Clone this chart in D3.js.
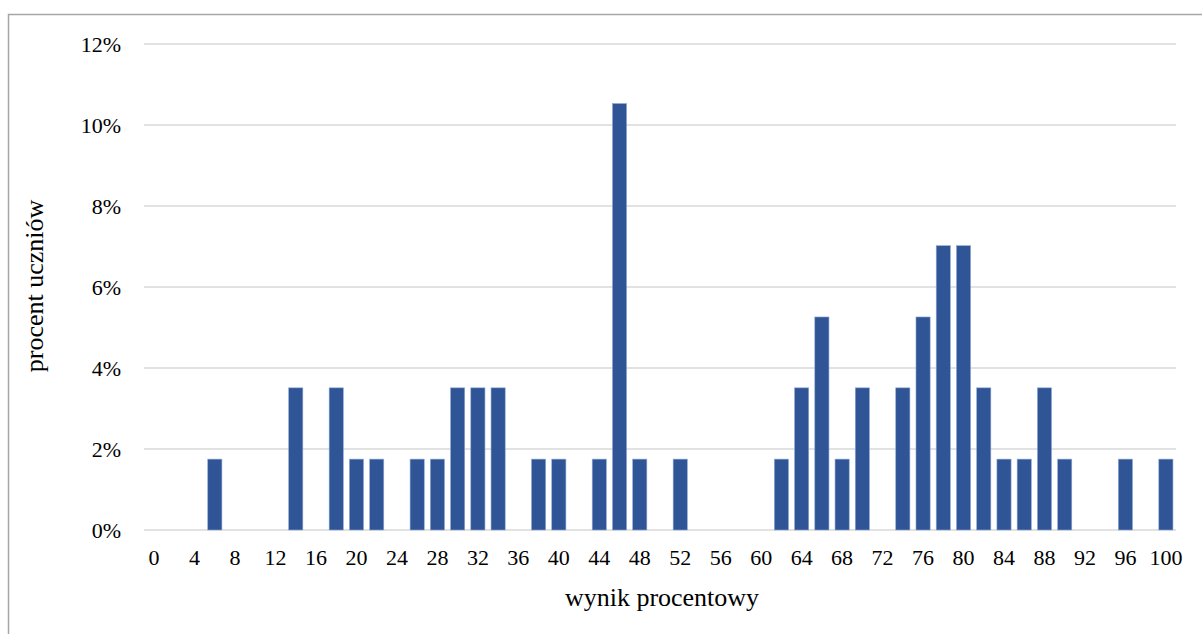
<!DOCTYPE html>
<html>
<head>
<meta charset="utf-8">
<script src="https://cdn.jsdelivr.net/npm/d3@7"></script>
<style>
  html, body { margin: 0; padding: 0; background: #fff; }
  svg { display: block; }
  text { font-family: "Liberation Serif", "Times New Roman", serif; fill: #000; }
</style>
</head>
<body>
<svg id="chart" width="1202" height="634"></svg>
<script>
// Categories: score in percent (0..100 step 2)
const categories = [0,2,4,6,8,10,12,14,16,18,20,22,24,26,28,30,32,34,36,38,40,42,44,46,48,50,
                    52,54,56,58,60,62,64,66,68,70,72,74,76,78,80,82,84,86,88,90,92,94,96,98,100];
// Percent of students for each category
const values = [0,0,0,1.75,0,0,0,3.51,0,3.51,1.75,1.75,0,1.75,1.75,3.51,3.51,3.51,0,1.75,1.75,0,1.75,10.53,1.75,0,
                1.75,0,0,0,0,1.75,3.51,5.26,1.75,3.51,0,3.51,5.26,7.02,7.02,3.51,1.75,1.75,3.51,1.75,0,0,1.75,0,1.75];
const xTickLabels = [0,4,8,12,16,20,24,28,32,36,40,44,48,52,56,60,64,68,72,76,80,84,88,92,96,100];
const yTicks = [0,2,4,6,8,10,12];

const svg = d3.select("#chart");

// frame
svg.append("rect")
  .attr("x", 8.5).attr("y", 14.5)
  .attr("width", 1400).attr("height", 800)
  .attr("fill", "none").attr("stroke", "#a6a6a6").attr("stroke-width", 1.5);

const x = d3.scaleBand().domain(categories).range([144, 1176]).paddingInner(0.3).paddingOuter(0.15);
const y = d3.scaleLinear().domain([0, 12]).range([530, 44]);

// gridlines
svg.append("g").selectAll("line").data(yTicks).join("line")
  .attr("x1", 144).attr("x2", 1176)
  .attr("y1", d => y(d)).attr("y2", d => y(d))
  .attr("stroke", "#d9d9d9").attr("stroke-width", 1.5);

// y tick labels
svg.append("g").selectAll("text").data(yTicks).join("text")
  .attr("x", 121).attr("y", d => y(d)).attr("dy", "0.35em")
  .attr("text-anchor", "end").attr("font-size", 22)
  .text(d => d + "%");

// bars
const data = categories.map((c, i) => ({c, v: values[i]})).filter(d => d.v > 0);
svg.append("g").selectAll("rect").data(data).join("rect")
  .attr("x", d => x(d.c)).attr("width", x.bandwidth())
  .attr("y", d => y(d.v)).attr("height", d => y(0) - y(d.v))
  .attr("fill", "#2f5597").attr("stroke", "#8fa9d6").attr("stroke-width", 0.6);

// x tick labels
svg.append("g").selectAll("text").data(xTickLabels).join("text")
  .attr("x", d => x(d) + x.bandwidth() / 2).attr("y", 565)
  .attr("text-anchor", "middle").attr("font-size", 22)
  .text(d => d);

// axis titles
svg.append("text")
  .attr("x", 662).attr("y", 606)
  .attr("text-anchor", "middle").attr("font-size", 26)
  .text("wynik procentowy");

svg.append("text")
  .attr("transform", "translate(43,286) rotate(-90)")
  .attr("text-anchor", "middle").attr("font-size", 26)
  .text("procent uczniów");
</script>
</body>
</html>
